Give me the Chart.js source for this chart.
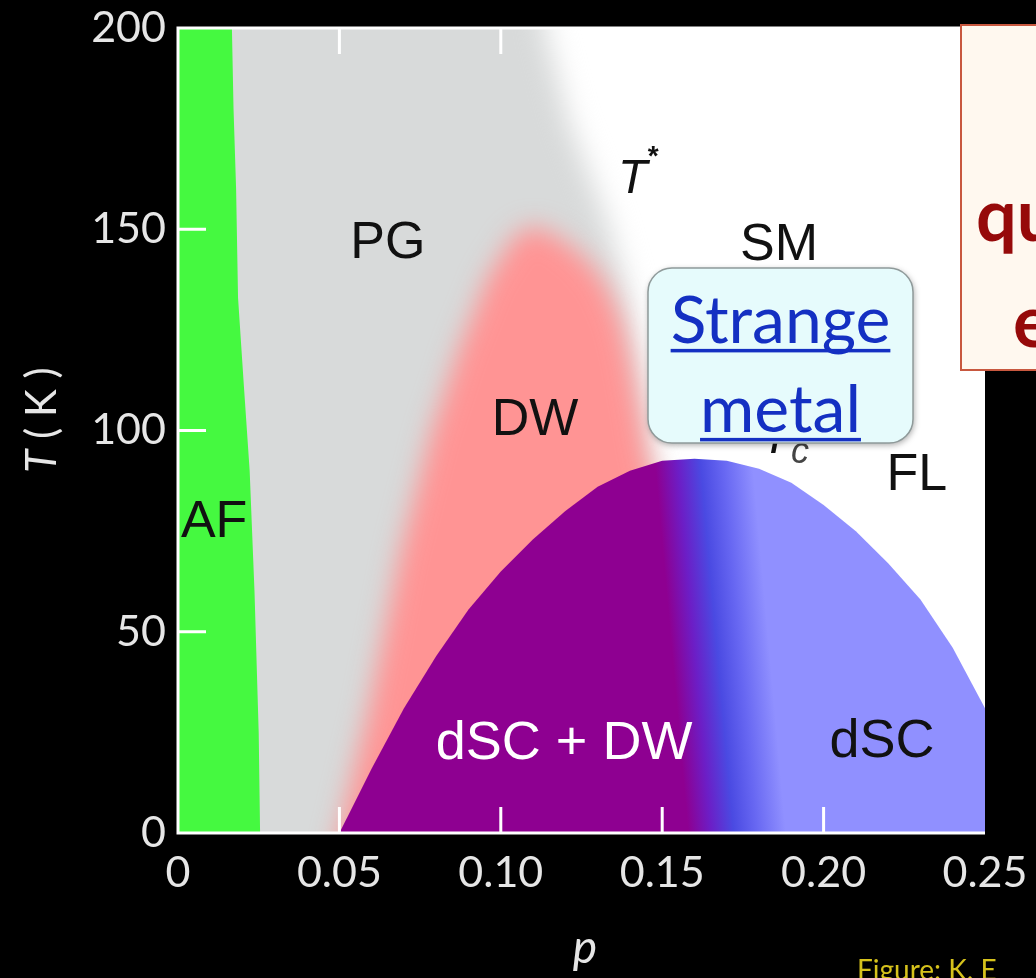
<!DOCTYPE html>
<html>
<head>
<meta charset="utf-8">
<script src="https://cdn.jsdelivr.net/npm/chart.js@4"></script>
<style>
  html, body { margin: 0; padding: 0; background: #000; }
  canvas { display: block; }
</style>
</head>
<body>
<canvas id="phase" width="1036" height="978"></canvas>
<script>
// axis ticks
const dopingTicks = [0, 0.05, 0.10, 0.15, 0.20, 0.25];
const tempTicks = [0, 50, 100, 150, 200];

// AF strip (right edge is a bit wavy)
const afDoping = [-0.01, 0.0167, 0.0172, 0.0180, 0.0186, 0.0205, 0.0222, 0.0237, 0.0250, 0.0256, -0.01];
const afTemp   = [215,   200,    180,    160,    133,    110,    90,     60,     25,     -10,    -10];

// pseudogap region, right edge = T*
const pgDoping = [-0.01, 0.112, 0.1137, 0.121, 0.133, 0.139, 0.143, 0.146, 0.150, 0.156, -0.01];
const pgTemp   = [215,   215,   200,    177,   152,   135,   115,   95,    80,    -10,   -10];

// density wave dome
const dwDoping = [0.047, 0.050, 0.059, 0.069, 0.0787, 0.087, 0.096, 0.104, 0.110, 0.118, 0.126, 0.132, 0.137, 0.140, 0.143, 0.145, 0.148, 0.156];
const dwTemp   = [-10,   0,     30,    70,    100,    120,   138,   148,   151,   148,   143,   137,   128,   118,   105,   95,    85,    -10];

// superconducting dome (Tc)
const scDoping = [0.05, 0.06, 0.07, 0.08, 0.09, 0.10, 0.11, 0.12, 0.13, 0.14, 0.15, 0.16, 0.17, 0.18, 0.19, 0.20, 0.21, 0.22, 0.23, 0.24, 0.25, 0.26, 0.05];
const scTemp   = [0,    16,   31,   44,   55.5, 65,   73,   80,   86,   90,   92.5, 93,   92.5, 90.5, 87,   81.5, 75,   67,   58,   46,   31,   -10,  -10];

// region names
const regionLabels = [
  { text: 'PG', p: 0.0650, T: 142.9, color: '#111' },
  { text: 'SM', p: 0.1862, T: 142.4, color: '#111' },
  { text: 'DW', p: 0.1106, T: 98.9, color: '#111' },
  { text: 'FL', p: 0.2289, T: 85.2, color: '#111' },
  { text: 'AF', p: 0.0112, T: 73.5, color: '#111' },
  { text: 'dSC + DW', p: 0.1196, T: 18.4, color: '#fff' },
  { text: 'dSC', p: 0.2181, T: 18.9, color: '#111' }
];

const LABEL_FONT = '"Liberation Sans", Arial, sans-serif';
const AXIS_FONT = 'Lato, "Open Sans", sans-serif';

function toPoints(xs, ys) {
  return xs.map((x, i) => ({ x: x, y: ys[i] }));
}

function regionDataset(label, xs, ys, color, order, blur) {
  return {
    label: label,
    data: toPoints(xs, ys),
    showLine: true,
    fill: 'shape',
    backgroundColor: color,
    borderColor: 'transparent',
    borderWidth: 0,
    pointRadius: 0,
    tension: 0,
    order: order,
    edgeBlur: blur
  };
}

// purple (dSC+DW) to blue (dSC) blend, slightly tilted
function scFill(c) {
  const chart = c.chart;
  if (!chart.chartArea) return '#8e0091';
  const x = chart.scales.x, y = chart.scales.y;
  const x0 = x.getPixelForValue(0.15), x1 = x.getPixelForValue(0.20);
  const y0 = y.getPixelForValue(0);
  const g = chart.ctx.createLinearGradient(x0, y0, x1, y0 - 0.09 * (x1 - x0));
  g.addColorStop(0, '#8e0091');
  g.addColorStop(0.16, '#8e0091');
  g.addColorStop(0.3, '#6c1ec6');
  g.addColorStop(0.44, '#4a4ae2');
  g.addColorStop(0.58, '#6767f2');
  g.addColorStop(0.76, '#9090ff');
  g.addColorStop(1, '#9090ff');
  return g;
}

// soft edges: ctx.filter must be set before Filler paints the dataset
function setBlur(chart, meta) {
  const b = meta ? chart.data.datasets[meta.index].edgeBlur : 0;
  chart.ctx.filter = b ? 'blur(' + b + 'px)' : 'none';
}
const softEdges = {
  id: 'softEdges',
  beforeDatasetsDraw(chart) {
    const metas = chart.getSortedVisibleDatasetMetas();
    setBlur(chart, metas[metas.length - 1]);
  },
  beforeDatasetDraw(chart) {
    chart.ctx.filter = 'none';
  },
  afterDatasetDraw(chart, args) {
    const metas = chart.getSortedVisibleDatasetMetas();
    const i = metas.indexOf(args.meta);
    setBlur(chart, metas[i - 1]);
  },
  afterDatasetsDraw(chart) {
    chart.ctx.filter = 'none';
  }
};

function roundRect(ctx, x, y, w, h, r) {
  ctx.beginPath();
  ctx.moveTo(x + r, y);
  ctx.arcTo(x + w, y, x + w, y + h, r);
  ctx.arcTo(x + w, y + h, x, y + h, r);
  ctx.arcTo(x, y + h, x, y, r);
  ctx.arcTo(x, y, x + w, y, r);
  ctx.closePath();
}

function underlinedText(ctx, text, cx, baseline) {
  const w = ctx.measureText(text).width;
  ctx.fillText(text, cx, baseline);
  ctx.fillRect(cx - w / 2, baseline + 6, w, 3.5);
}

const decor = {
  id: 'decor',
  beforeDraw(chart) {
    const ctx = chart.ctx, a = chart.chartArea;
    ctx.save();
    ctx.fillStyle = '#000';
    ctx.fillRect(0, 0, chart.width, chart.height);
    ctx.fillStyle = '#fff';
    ctx.fillRect(a.left, a.top, a.right - a.left, a.bottom - a.top);
    ctx.restore();
  },
  afterDraw(chart) {
    const ctx = chart.ctx, a = chart.chartArea;
    const xs = chart.scales.x, ys = chart.scales.y;
    const px = v => xs.getPixelForValue(v);
    const py = v => ys.getPixelForValue(v);
    ctx.save();

    // frame and inward ticks
    ctx.strokeStyle = '#fff';
    ctx.lineWidth = 3;
    ctx.beginPath();
    ctx.moveTo(a.right, a.bottom);
    ctx.lineTo(a.left, a.bottom);
    ctx.lineTo(a.left, a.top);
    ctx.lineTo(a.right, a.top);
    ctx.stroke();
    ctx.beginPath();
    dopingTicks.slice(1, -1).forEach(v => {
      const x = px(v);
      ctx.moveTo(x, a.bottom); ctx.lineTo(x, a.bottom - 26);
      ctx.moveTo(x, a.top); ctx.lineTo(x, a.top + 26);
    });
    tempTicks.slice(1, -1).forEach(v => {
      const y = py(v);
      ctx.moveTo(a.left, y); ctx.lineTo(a.left + 28, y);
    });
    ctx.stroke();

    // region names
    ctx.textAlign = 'center';
    ctx.textBaseline = 'alphabetic';
    regionLabels.forEach(l => {
      ctx.font = (l.text.startsWith('dSC') ? 54 : 52) + 'px ' + LABEL_FONT;
      ctx.fillStyle = l.color;
      ctx.fillText(l.text, px(l.p), py(l.T));
    });

    // T* and Tc
    ctx.textAlign = 'left';
    ctx.fillStyle = '#111';
    ctx.font = 'italic 48px ' + LABEL_FONT;
    ctx.fillText('T', px(0.1363), py(159));
    ctx.font = 'bold 28px ' + LABEL_FONT;
    ctx.fillText('*', px(0.1455), py(166));
    ctx.font = 'italic 48px ' + LABEL_FONT;
    ctx.fillText('T', px(0.1806), py(94.4));
    ctx.fillStyle = '#444';
    ctx.font = 'italic 36px ' + LABEL_FONT;
    ctx.fillText('c', px(0.1899), py(91.9));

    // "Strange metal" callout
    const bx = px(0.1456), by = py(140.4);
    const bw = px(0.2277) - bx, bh = py(96.9) - by;
    ctx.save();
    ctx.shadowColor = 'rgba(0,0,0,0.35)';
    ctx.shadowBlur = 6;
    ctx.shadowOffsetX = 1;
    ctx.shadowOffsetY = 2;
    roundRect(ctx, bx, by, bw, bh, 24);
    ctx.fillStyle = '#e6fbfc';
    ctx.fill();
    ctx.restore();
    roundRect(ctx, bx, by, bw, bh, 24);
    ctx.strokeStyle = '#8f9a9a';
    ctx.lineWidth = 1.5;
    ctx.stroke();
    ctx.fillStyle = '#1430c2';
    ctx.textAlign = 'center';
    ctx.font = '66px ' + AXIS_FONT;
    underlinedText(ctx, 'Strange', bx + bw / 2, by + 75);
    underlinedText(ctx, 'metal', bx + bw / 2, by + 164);

    // slide box on the right
    ctx.fillStyle = '#fff8ef';
    ctx.fillRect(961, 25, 90, 345);
    ctx.strokeStyle = '#c8583f';
    ctx.lineWidth = 2;
    ctx.strokeRect(961, 25, 90, 345);
    ctx.fillStyle = '#960a0a';
    ctx.textAlign = 'left';
    ctx.font = 'bold 72px ' + AXIS_FONT;
    ctx.fillText('qu', 976, 241);
    ctx.fillText('e', 1013, 347);

    // axis titles
    ctx.fillStyle = '#e6e6e6';
    ctx.font = 'italic 46px ' + AXIS_FONT;
    ctx.textAlign = 'center';
    ctx.fillText('p', 585, 963);
    ctx.save();
    ctx.translate(56, 420);
    ctx.rotate(-Math.PI / 2);
    ctx.font = 'italic 42px ' + AXIS_FONT;
    const tW = ctx.measureText('T').width;
    ctx.font = '42px ' + AXIS_FONT;
    const restW = ctx.measureText(' ( K )').width;
    const sx = -(tW + restW) / 2;
    ctx.textAlign = 'left';
    ctx.font = 'italic 42px ' + AXIS_FONT;
    ctx.fillText('T', sx, 0);
    ctx.font = '42px ' + AXIS_FONT;
    ctx.fillText(' ( K )', sx + tW, 0);
    ctx.restore();

    // credit line, cut by the bottom edge
    ctx.fillStyle = '#d6c21c';
    ctx.font = '28px ' + AXIS_FONT;
    ctx.textAlign = 'left';
    ctx.fillText('Figure: K. E', 857, 980);

    ctx.restore();
  }
};

new Chart(document.getElementById('phase'), {
  type: 'scatter',
  data: {
    datasets: [
      regionDataset('AF', afDoping, afTemp, '#45f940', 1, 0),
      regionDataset('dSC', scDoping, scTemp, scFill, 2, 0),
      regionDataset('DW', dwDoping, dwTemp, '#ff9494', 3, 13),
      regionDataset('PG', pgDoping, pgTemp, '#d8dada', 4, 14)
    ]
  },
  options: {
    responsive: false,
    animation: false,
    events: [],
    layout: { padding: { left: 0, top: 28, right: 51, bottom: 0 } },
    plugins: {
      legend: { display: false },
      tooltip: { enabled: false }
    },
    scales: {
      x: {
        type: 'linear',
        min: 0,
        max: 0.25,
        afterBuildTicks: s => { s.ticks = dopingTicks.map(v => ({ value: v })); },
        afterFit: s => { s.height = 145; s.paddingLeft = 0; s.paddingRight = 0; },
        ticks: {
          color: '#e6e6e6',
          font: { family: AXIS_FONT, size: 43 },
          padding: 14,
          maxRotation: 0,
          autoSkip: false,
          callback: v => v === 0 ? '0' : v.toFixed(2)
        },
        grid: { display: false, drawTicks: false },
        border: { display: false }
      },
      y: {
        type: 'linear',
        min: 0,
        max: 200,
        afterBuildTicks: s => { s.ticks = tempTicks.map(v => ({ value: v })); },
        afterFit: s => { s.width = 178; s.paddingTop = 0; s.paddingBottom = 0; },
        ticks: {
          color: '#e6e6e6',
          font: { family: AXIS_FONT, size: 43 },
          padding: 12
        },
        grid: { display: false, drawTicks: false },
        border: { display: false }
      }
    }
  },
  plugins: [softEdges, decor]
});
</script>
</body>
</html>
